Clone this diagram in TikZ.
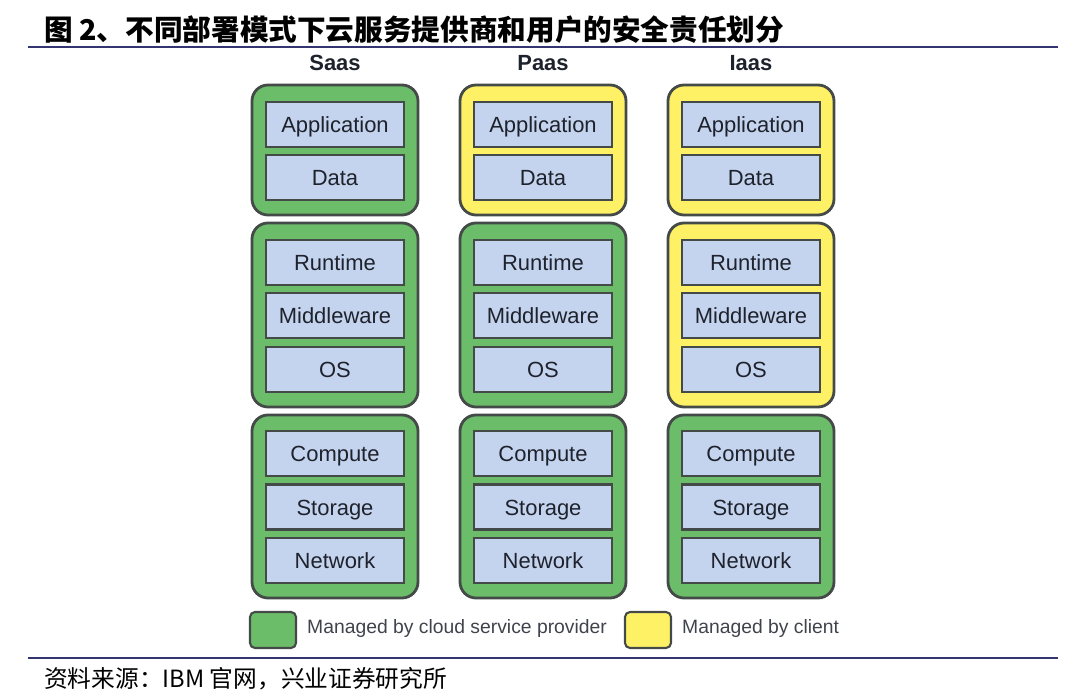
\documentclass[tikz,border=0pt]{standalone}
\usepackage{fontspec}
\setmainfont{Liberation Sans}
\newfontfamily\cjk{Noto Sans CJK SC}
\usetikzlibrary{positioning}
\definecolor{provgreen}{RGB}{108,189,105}
\definecolor{clientyellow}{RGB}{255,241,102}
\definecolor{layerblue}{RGB}{197,212,238}
\definecolor{edgegray}{RGB}{68,74,72}
\definecolor{rulenavy}{RGB}{52,52,112}
\definecolor{inkdark}{RGB}{30,34,44}
\tikzset{layer/.style={draw=edgegray,line width=1.4pt,fill=layerblue,minimum width=138*0.02cm,
    minimum height=45*0.02cm,inner sep=0pt,text height=10.6pt,text depth=1.4pt,
    font=\fontsize{12.5}{14}\selectfont,text=inkdark},
  grp/.style={draw=edgegray,line width=1.6pt,rounded corners=16*0.02cm,minimum width=166*0.02cm,inner sep=0pt},
  provider/.style={grp,fill=provgreen},
  client/.style={grp,fill=clientyellow},
  swatch/.style={draw=edgegray,line width=1.2pt,rounded corners=5*0.02cm,minimum width=46*0.02cm,
    minimum height=36*0.02cm,inner sep=0pt},
  hdr/.style={font=\bfseries\fontsize{12.5}{14}\selectfont,text=inkdark},
  legtext/.style={anchor=west,font=\fontsize{11}{13}\selectfont,text=inkdark!85}}
\begin{document}
\begin{tikzpicture}[x=0.02cm,y=-0.02cm]
\useasboundingbox (0,0) rectangle (1080,699);
% title and rules (1 unit = 1 px of the 1080 x 699 picture)
\node[anchor=west,font=\cjk\bfseries\fontsize{16.3}{18}\selectfont] (title) at (38,30) {图 2、不同部署模式下云服务提供商和用户的安全责任划分};
\draw[rulenavy,line width=1.3pt] (28,47) -- (1058,47);
\draw[rulenavy,line width=1.3pt] (28,658) -- (1058,658);
\node[anchor=west,font=\cjk\fontsize{13.5}{15}\selectfont] (source) at (38,679) {资料来源：IBM 官网，兴业证券研究所};
% one column per service model
\foreach \c/\cx/\lbl/\ga/\gb in {s/335/Saas/provider/provider,p/543/Paas/client/provider,i/751/Iaas/client/client}{
  \node[hdr] (\c-head) at (\cx,63) {\lbl};
  \node[\ga,minimum height=130*0.02cm] (\c-top) at (\cx,150) {};
  \node[\gb,minimum height=184*0.02cm] (\c-mid) at (\cx,315) {};
  \node[provider,minimum height=183*0.02cm] (\c-bot) at (\cx,506.5) {};
  \node[layer] (\c-app) at (\cx,124.5) {Application};
  \node[layer] (\c-data) at (\cx,177.5) {Data};
  \node[layer] (\c-run) at (\cx,262.5) {Runtime};
  \node[layer] (\c-mw) at (\cx,315.5) {Middleware};
  \node[layer] (\c-os) at (\cx,369.5) {OS};
  \node[layer] (\c-cpu) at (\cx,453.5) {Compute};
  \node[layer] (\c-sto) at (\cx,507) {Storage};
  \node[layer] (\c-net) at (\cx,560.5) {Network};
}
% legend
\node[swatch,fill=provgreen] (leg-prov) at (273,630) {};
\node[legtext] (leg-prov-t) at (301,629) {Managed by cloud service provider};
\node[swatch,fill=clientyellow] (leg-cli) at (648,630) {};
\node[legtext] (leg-cli-t) at (676,629) {Managed by client};
\end{tikzpicture}
\end{document}
